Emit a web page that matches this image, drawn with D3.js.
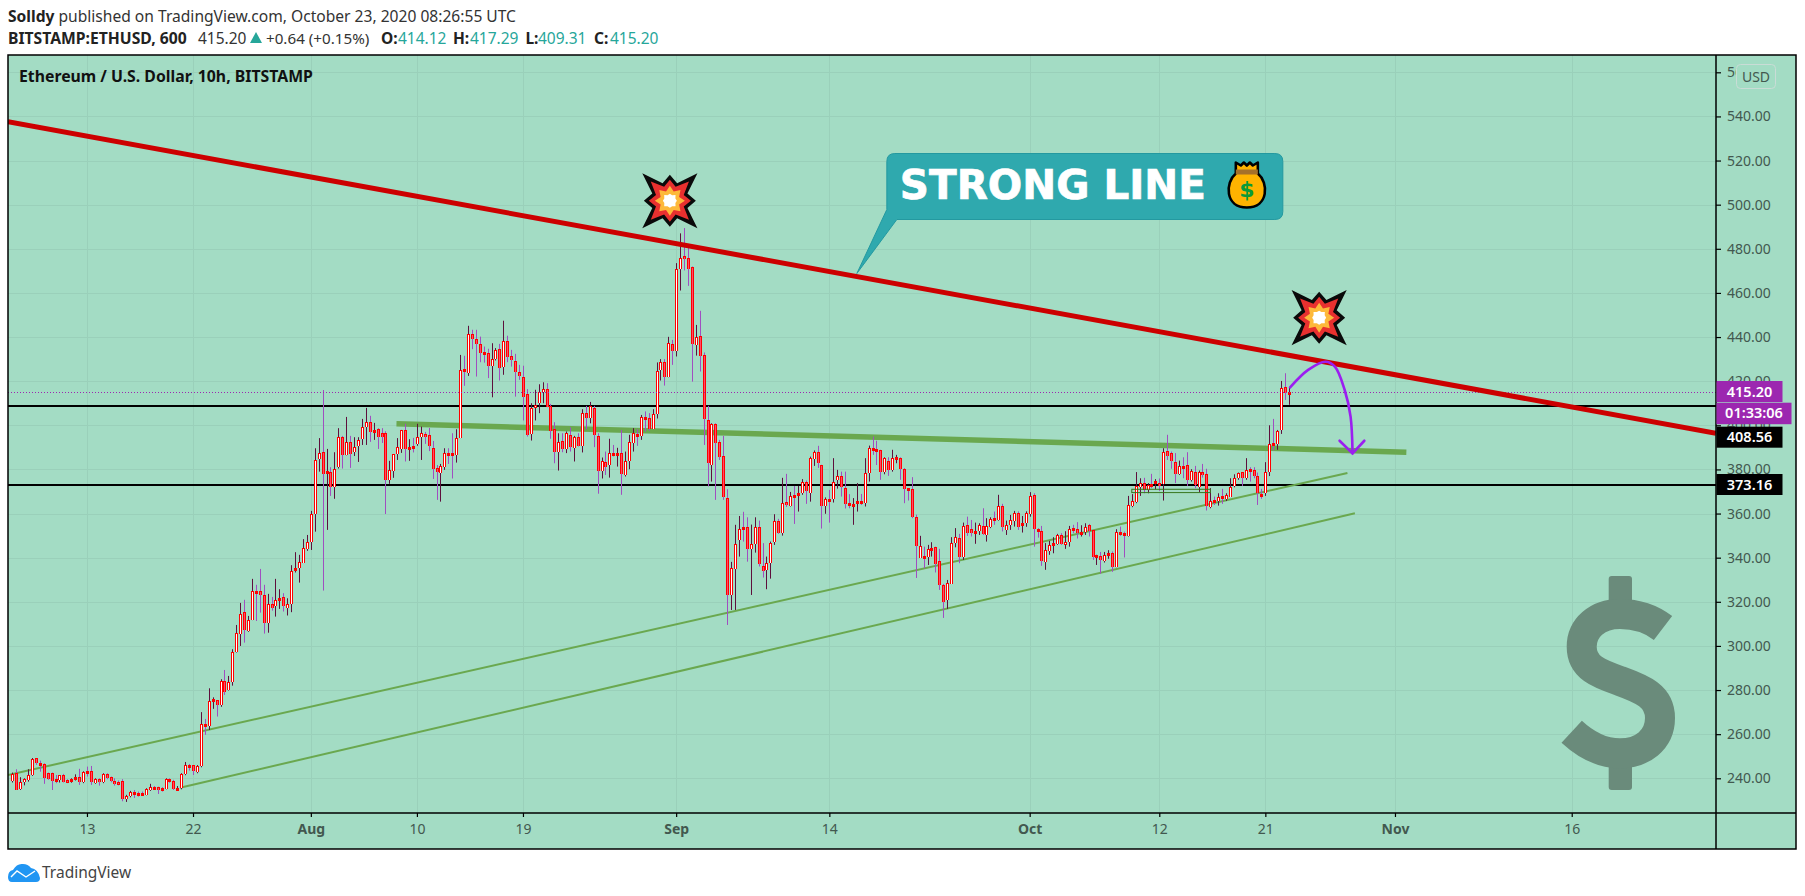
<!DOCTYPE html>
<html><head><meta charset="utf-8">
<script src="https://cdn.jsdelivr.net/npm/d3@7/dist/d3.min.js"></script>
<style>html,body{margin:0;padding:0;background:#fff}svg{display:block}text{font-family:"Noto Sans",sans-serif}</style>
</head><body><svg id="c" width="1805" height="896"></svg>
<script>
const opens=[238.7,242.3,235.0,238.1,239.3,241.4,249.1,246.8,246.4,242.3,242.3,239.6,239.3,241.5,239.3,238.7,239.6,240.5,238.4,243.2,243.5,237.8,239.6,238.2,241.8,240.5,239,238.5,238.7,230.7,232,233.7,233.4,233.4,232.6,234.7,236,236.1,235.6,235.3,239.6,239,235.3,235.6,241.8,246,245.9,243,245.4,264.5,263.9,274.8,275.4,273.4,284,279.8,283.5,297.1,305.2,315.3,306.8,311.7,324.8,324.8,323,310.6,318.9,318,321.5,322.1,317.4,319.2,334.2,335.5,337.8,344.1,347.3,359.7,384.6,387.8,378.1,379,372.2,380.9,394.6,386.4,392.3,387.7,390.8,393.7,399.4,401.4,396.7,398.2,396.4,396.4,375,379.5,386.8,389.2,397.8,389.2,390.7,391.3,394.5,396.1,395.5,389.6,380.6,378.6,380.9,387.4,387.4,386.6,394.2,425.4,423.9,441.3,439,436.8,433.1,432.7,427.1,430.1,434.5,426.3,438,431.2,429.2,424.1,422.1,414.1,396,408.2,410,414.9,416.4,408.8,398.2,387.8,392.9,389.2,395.7,389.6,394.6,390.8,405.5,403.2,407.8,395.1,379.5,383.3,381.8,387.4,386.3,387.4,377.5,383.6,391.9,396.1,395.2,403.7,403.2,398.4,405,425.1,428.9,421.8,436.8,433.9,470.9,476.8,475.8,471.7,436.3,440.6,431.8,402.5,381.9,400.5,392.3,386,367.1,323.1,334.8,347.8,353.8,353.8,343.8,346.1,353.8,336.1,334.6,337.5,347,356.5,351.1,365.1,363.6,368.6,368.2,369.2,374.2,369.5,384.9,387.8,381.9,363.2,366.5,366.8,375,377.2,371.5,364.7,363.6,364.5,365.6,365,378.3,389.8,389.2,388.7,379,383.6,379.8,384.5,385.1,380.1,371.6,371,358.3,340,340.8,340.5,343.7,344.7,338.4,327.5,320.6,328.1,346.6,348.8,340.1,354.7,352.9,351.1,352.3,354.4,350.5,353.7,358,357.3,363.3,352.5,354.7,356.4,360.2,354.6,355.6,359.9,368.3,353.1,352,338,343.2,346,346.4,350.5,346,347.3,353.4,352.9,351.2,351.7,355,352.5,340.1,340.7,338.7,341,342,336,351.5,351.1,350,363.6,365.1,372.2,374,370.9,373.5,373.6,374,373.2,388.3,387.4,383.3,378.1,381.6,381.9,375,378.7,372.2,378.7,377.8,363,366.2,365.9,367.9,366.7,367.7,372.5,376,378.7,376.2,380.1,379.6,376.9,368.9,369.1,379,392,391.4,397.8,417.3,414.12];
const highs=[242.6,244.1,240.5,240,244.1,249.2,249.2,248,246.8,242.6,242.6,241.5,241.5,242,239.6,240,241.8,244.3,243.2,245.3,245.6,240,240,242.3,242.3,240.8,240,239,239.6,232.5,234.3,234.7,234,234,235.5,237.5,236.5,236.2,236,240,240,239.3,236.5,242.3,247.4,246.5,246,246,270,266.9,280.8,276.7,275.5,284.9,289.1,286.4,298.5,309.5,319.5,320.9,313.6,330.4,327.7,334.9,327.7,323.6,322.2,330.4,325.7,323.9,321.6,336.6,342.5,341.3,348.4,350.3,361.2,389.6,394.2,416,389.3,381,387.8,398.7,395.2,403.8,395.2,394.6,394.6,402.9,407.9,404.3,401.1,398.7,398.7,397.3,383.9,387,394.2,397.9,400.7,393.7,394.3,400.7,399.4,397,398.8,392.9,382,382.5,389.6,389.6,396.4,398.2,431.9,431.5,445.1,443.3,443.3,440.2,435.7,434.7,437.2,435,436.9,447.4,440.6,434.2,432.4,427.4,427,416.4,410,416.1,418.6,419.5,419.1,409.7,401.4,396.4,396.4,397.2,399,395.2,396.4,407.3,408.8,410.6,408.8,396.4,385.4,388.1,393.9,391.1,389.8,397.9,388.1,395.7,398.7,398.2,404.7,406.3,405.5,407.3,428.5,430,430,440.1,438.7,473.5,487,489.4,481.8,472,445.5,451.9,433,408.8,400.9,400.9,393.4,395.2,371,338.1,354.9,358.9,360.8,358.3,355,358.3,356.8,346.6,340.5,347.3,359.7,357.6,376.2,378,369.8,372.5,372.5,375.6,375,385.8,388.6,390.7,382.1,367.3,370.7,385.1,379.8,379,379,368.8,367,373.8,368.9,385.1,390.8,394.9,393,388.9,385.5,385.5,388.9,386.6,385.5,380.6,371.5,376.5,359.5,349.9,345,345.8,347,345,344,328.1,329.9,349.3,353.4,350.8,355.9,358.6,357.1,355.9,355.6,362.4,357.9,358.3,360.9,368.5,364.4,356.8,359.4,361.2,361,358.9,361,369.7,369.2,353.4,354.4,346.6,347.6,349.3,350.8,351.1,352,354.4,354.9,356.1,354.7,355.6,355.3,352.6,341.3,342.6,342.6,343.4,342.8,352.9,354.1,351.8,368,368.8,378.8,376,376.2,373.8,378,375.6,375.9,389.6,395.7,388.1,387.4,384,385.5,387.8,380.1,381.6,379.5,382.5,380.3,371.5,367.7,369.2,371.2,369.2,376,377.8,378.6,378.6,385.1,381,381,378.6,371.2,383.3,400,402.9,397.9,420.1,423.6,417.29];
const lows=[238.1,234.7,234.7,236.8,238.5,241.1,246.1,243,237.5,239.3,234.7,237.8,238.1,238.1,237.8,238,239,237,237.8,240.8,237,237.5,236.7,237.8,239.6,238.2,236.7,236.8,229.6,229.3,231.4,231.1,231.7,232.3,232.3,234.3,234.7,232.9,234,235,238,234.7,235,235,241.4,243.5,241.5,242.3,245,259.7,261.9,271.5,268,272.4,277.8,279.8,282,297,300,301.5,306.4,311.7,311.3,315.1,305.6,306,316,313.3,316.8,315.6,313.8,315.3,333.3,328.7,337.8,343.1,343.5,351.8,379,325.1,352.6,368,366.7,380.4,380.4,386.4,380.7,386.1,383.4,391.1,391.1,392.5,393.4,389.3,392,359.8,373.5,376.2,384.3,387.5,383.6,383.9,387.7,390.7,384.3,391.6,388.3,375.7,366.2,365.4,379.8,382.5,375.9,383.1,394.2,417.9,422.4,434.5,422.1,428.6,428.4,421.4,412.7,429.4,420.3,422.9,428.6,426.6,413,420.6,402.2,394.9,393.1,402.2,405.5,410,408.2,393.9,382.8,379.5,387.8,387.4,388.1,383.6,390.4,387.7,398.2,400.9,390.1,369,375.9,377.5,376.3,385.9,381.3,368.5,376.8,380.1,388.1,390.7,393.4,397.2,397.6,398.4,403.1,420.3,418,421.8,427.4,431.2,461.1,470.2,463.2,419.8,431.6,424.4,391.1,372.3,374.5,366.2,384.3,366.2,309.5,316.3,316.3,340.5,347.3,338.2,323.1,342.3,336,331,325.7,330.5,345.8,350.8,350,363,363.2,355.3,360.9,368.5,364.4,365.4,381.6,380.7,353.2,359.9,355.9,365,371.3,367.7,362.3,362.4,354.9,360.9,363.9,363.2,374.5,386.6,382,375.3,377.8,377.1,379,382.8,375.3,364.7,365.9,357.9,330.8,340,335.2,336.7,340.5,333.3,325.4,312.7,316.8,328.1,344.7,337.5,339,349.9,349.6,346.3,350.3,350.3,347.3,353.4,354.9,356.8,351.9,350.3,352.6,354.1,352.6,351.4,354,358.6,345,349.1,336.3,334.5,341.3,342,345.8,345.8,344,345,351.1,348.7,349.6,350.3,349.6,339,336.7,332.8,337.8,339.5,333.6,335.7,349.9,340.1,349.6,362.9,364.7,368,369.2,369.2,371.5,371,370.3,365.9,384.3,380.3,373.8,377.5,376,372.5,374.5,371.5,369.8,376.3,361.4,362.4,363.9,363.6,364.4,365.7,367.7,371.9,375.3,372.5,375.3,374.5,376,363.9,366.7,368,377,388.6,388.9,396.1,411.5,409.31];
const closes=[242,234.7,238.2,239.6,241.4,248.6,247.1,246.2,240,239.7,239,239,241.5,238.5,238.1,239.7,240.5,238.5,242.9,242.9,238.1,239.6,238.4,241.8,240.3,239,237.3,237.2,230.8,232.2,233.8,233.4,233.2,232.6,235,236.1,235.8,234.9,234.9,239.6,239,235.3,235.8,242,245.9,245.9,243.5,245.6,264.5,264.4,274.9,275.8,273.4,284,279.2,283.7,297.1,305.8,314.4,307,311.7,324.8,324.6,323,310.6,318.9,317.4,321,321.6,318.3,318.9,333.9,335.2,338.1,344.4,347,359.7,384.2,387.4,378.1,379.2,371.9,380.1,394.6,386.4,392.3,386.8,390.1,393.3,399.1,401.4,396.9,397.8,394.9,394.9,375,379.7,386.9,390.1,397.8,389.3,390.1,390.4,394.6,396.4,394.9,390.4,380.1,379,381.5,387.4,387.2,386.3,394.2,425.1,424.5,441.3,439,436.8,432.7,432.2,427.1,430,434.2,425.9,438,430.9,429.4,424.1,422.3,413,395.7,407.8,409.4,415.3,416.4,408.5,397.5,388.1,392.4,389.3,396.4,390.1,394.5,390.8,405.5,403.5,408.8,395.4,379.5,383.7,381.3,387.4,386.3,387.4,378,383.6,392.4,396.4,395.2,403.7,402.9,398.4,405,424.8,428.9,421.8,437.5,433.9,470.8,475.8,475.6,471,436.8,439.9,431.6,402.8,382.8,400.5,391.9,385.8,367.4,323,335.1,346.3,352.9,352.8,343.8,346.3,353.8,337,333.9,337.5,346.6,356.5,351.4,364.7,363.8,367.9,367.7,369.2,374.2,370,385.1,387.8,382.7,363.2,366.5,365.4,374.5,377.2,372,364.4,363.9,364.4,365.6,365,378.3,389.6,389.5,388.1,379,385.1,379.8,385.1,385.5,380.1,371.3,370.9,358.6,345.5,345.2,340,343.8,344.4,337.2,327.4,320.1,328.4,346.6,349.3,340.1,354.4,351.4,351.4,352.2,354.6,350.6,354.4,357.4,357.7,363.3,354.1,354.7,357,360.2,354.1,355.6,360.2,368,352.9,352.8,338.4,343.4,345.7,346.6,350.2,346.3,347.3,352.9,352.8,351.4,351.8,353.8,352.3,340.5,341.1,339,341.1,342,336,351.5,351.2,350,363.8,365.6,372.4,374,370.9,372.8,373,374.7,372.7,387.8,386.3,383.6,378.1,381.5,381.3,375.3,379.2,372.8,378.7,377.5,363.2,365.7,365.3,367.4,366.8,368.6,371.9,376,378.6,376.2,379.6,379,376.8,369.1,368.3,379,391.7,391.7,397.6,416.8,414.6,415.2];

const priceTicks=[240,260,280,300,320,340,360,380,400,420,440,460,480,500,520,540,560];
const timeTickBars=[19,46,76,103,130,169,208,259,292,319,352,397];
const timeTickLabels=["13","22","Aug","10","19","Sep","14","Oct","12","21","Nov","16"];
const monthLabels=["Aug","Sep","Oct","Nov"];
const hLevels=[408.56,373.16];
const lastPrice=415.20;
const redLine=[[-1.1,537.6],[433.7,396.4]];
const greenThick=[[97.8,400.7],[354.9,387.8]];
const greenThin1=[[-1.1,241.5],[339.9,378.4]];
const greenThin2=[[42.7,235.7],[341.8,360.1]];
const rangeBox=[285,305,371,369.5];
const curvedArrow=[[325.3,417.2],[329.9,425.1],[334.3,428.8],[336.7,426.6],[339.2,416],[340.7,403.9],[341.2,387.3]];
const arrowHead=[[337.9,393],[341.2,387.3],[344.2,393]];
const blasts=[[167.4,501.8],[332.7,448.8]];
const calloutTip=[215,468.8];

const BG="#a3dcc4",GRID="#9ad0ba",AXT="#42584f";
const L=8,R=1716,T=55,B=813,FR=1796,FB=849;
const svg=d3.select("#c");
const x=d3.scaleLinear().domain([-1.1,433.73]).range([L,R]);
const y=d3.scaleLinear().domain([240,560]).range([778.3,72.3]);

svg.append("rect").attr("x",L).attr("y",T).attr("width",FR-L).attr("height",FB-T).attr("fill",BG);
const defs=svg.append("defs");
defs.append("clipPath").attr("id","plot").append("rect").attr("x",L).attr("y",T).attr("width",R-L).attr("height",B-T);
const g=svg.append("g").attr("clip-path","url(#plot)");

// grid
g.selectAll(".gh").data(priceTicks).join("line").attr("x1",L).attr("x2",R).attr("y1",d=>Math.round(y(d))+.5).attr("y2",d=>Math.round(y(d))+.5).attr("stroke",GRID);
g.selectAll(".gv").data(timeTickBars).join("line").attr("y1",T).attr("y2",B).attr("x1",d=>Math.round(x(d))+.5).attr("x2",d=>Math.round(x(d))+.5).attr("stroke",GRID);

// dollar watermark
const wm=g.append("g").attr("fill","#6a8b7b").attr("stroke","none");
wm.append("rect").attr("x",1608.7).attr("y",576).attr("width",23.3).attr("height",30).attr("rx",3);
wm.append("rect").attr("x",1608.7).attr("y",760).attr("width",23.3).attr("height",30).attr("rx",3);
wm.append("path").attr("fill","none").attr("stroke","#6a8b7b").attr("stroke-width",30)
 .attr("d","M1663,628 C1650,618 1636,614 1620,614 C1597,614 1581.7,628 1581.7,646.7 C1581.7,668 1600,674 1620,681 C1642,689 1660,696 1660,718 C1660,740 1642,753.3 1620,753.3 C1600,753.3 1585,744 1571.7,731.7");

const ln=d3.line().x(d=>x(d[0])).y(d=>y(d[1]));
// level lines
g.selectAll(".lvl").data(hLevels).join("line").attr("x1",L).attr("x2",R).attr("y1",d=>Math.round(y(d))).attr("y2",d=>Math.round(y(d))).attr("stroke","#000").attr("stroke-width",2);
// thin trend
g.append("path").attr("d",ln(greenThin1)).attr("stroke","#6aa84f").attr("stroke-width",2).attr("fill","none");
g.append("path").attr("d",ln(greenThin2)).attr("stroke","#6aa84f").attr("stroke-width",2).attr("fill","none");
g.append("path").attr("d",ln(greenThick)).attr("stroke","#6aa84f").attr("stroke-width",5.5).attr("fill","none");

// candles
const bars=d3.range(closes.length);
const cx=i=>Math.round(x(i));
g.selectAll(".w").data(bars).join("rect").attr("x",cx).attr("width",1)
 .attr("y",i=>y(highs[i])).attr("height",i=>Math.max(1,y(lows[i])-y(highs[i])))
 .attr("fill",i=>closes[i]>=opens[i]?"#5e0f3c":"#a04ec0");
g.selectAll(".b").data(bars).join("rect").attr("x",i=>cx(i)-1).attr("width",3)
 .attr("y",i=>Math.round(y(Math.max(opens[i],closes[i]))))
 .attr("height",i=>Math.max(3,Math.round(y(Math.min(opens[i],closes[i])))-Math.round(y(Math.max(opens[i],closes[i])))))
 .attr("fill","#ff0000");
g.selectAll(".c").data(bars.filter(i=>Math.abs(y(opens[i])-y(closes[i]))>=2.5)).join("rect").attr("x",cx).attr("width",1)
 .attr("y",i=>Math.round(y(Math.max(opens[i],closes[i])))+1)
 .attr("height",i=>Math.round(y(Math.min(opens[i],closes[i])))-Math.round(y(Math.max(opens[i],closes[i])))-1)
 .attr("fill",i=>closes[i]>=opens[i]?"#ffffff":"#ff4a6a");

// range box
g.append("rect").attr("x",x(rangeBox[0])).attr("width",x(rangeBox[1])-x(rangeBox[0])).attr("y",y(rangeBox[2])).attr("height",y(rangeBox[3])-y(rangeBox[2]))
 .attr("fill","none").attr("stroke","#38761d").attr("stroke-width",1);
// last price dotted
g.append("line").attr("x1",L).attr("x2",R).attr("y1",Math.round(y(lastPrice))+.5).attr("y2",Math.round(y(lastPrice))+.5).attr("stroke","#9c27b0").attr("stroke-dasharray","1 2");
// red line
g.append("path").attr("d",ln(redLine)).attr("stroke","#cc0000").attr("stroke-width",5).attr("fill","none");

// curved arrow
g.append("path").attr("d",d3.line().x(d=>x(d[0])).y(d=>y(d[1])).curve(d3.curveCatmullRom)(curvedArrow)).attr("fill","none").attr("stroke","#9b1ff0").attr("stroke-width",2.6).attr("stroke-linecap","round");
g.append("path").attr("d",ln(arrowHead)).attr("fill","none").attr("stroke","#9b1ff0").attr("stroke-width",2.6).attr("stroke-linecap","round");

// callout
const tx=x(calloutTip[0]),ty=y(calloutTip[1]);
const co=svg.append("g").attr("transform",`translate(${tx},${ty})`);
co.append("path").attr("fill","#2fa9ae").attr("stroke","#2499a0").attr("stroke-width",1)
 .attr("d","M0,0 L30,-64 L30,-112 Q30,-120 38,-120 L418,-120 Q426,-120 426,-112 L426,-62 Q426,-54 418,-54 L40,-54 Z");
co.append("text").attr("x",43).attr("y",-75).attr("fill","#fff").attr("stroke","#fff").attr("stroke-width",.7).attr("font-size",40.5).attr("font-weight",700).style("font-family","'DejaVu Sans',sans-serif").text("STRONG LINE");
// money bag
const bag=co.append("g").attr("transform","translate(390,-89)");
bag.append("path").attr("d","M-11,-22 L-11,-11 C-22,-2 -22,23 0,23 C22,23 22,-2 11,-11 L11,-22 L6,-19 L3,-22 L0,-19 L-3,-22 L-6,-19 Z").attr("fill","#ffb300").attr("stroke","#000").attr("stroke-width",2.6).attr("stroke-linejoin","round");
bag.append("rect").attr("x",-11).attr("y",-15).attr("width",22).attr("height",5).attr("fill","#a5702a");
bag.append("text").attr("x",0).attr("y",12).attr("text-anchor","middle").attr("font-size",22).attr("font-weight",700).attr("fill","#0a9a3a").style("font-family","'DejaVu Sans',sans-serif").text("$");

// blasts
function star(rAxis,rDiag,rIn){const p=[];for(let k=0;k<16;k++){const a=k*Math.PI/8;const r=k%2?rIn:(k%4===0?rAxis:rDiag);p.push([r*Math.cos(a),r*Math.sin(a)]);}return d3.line()(p)+"Z";}
svg.selectAll(".bl").data(blasts).join("g").attr("transform",d=>`translate(${x(d[0])},${y(d[1])})`).each(function(){
 const s=d3.select(this);
 s.append("path").attr("d",star(26,39,19)).attr("fill","#0a0a0a");
 s.append("path").attr("d",star(21,27,15)).attr("fill","#e8302f");
 s.append("path").attr("d",star(15,15,10)).attr("fill","#fdb93a");
 s.append("path").attr("d",star(7,8,6)).attr("fill","#fff");
});

// frame
const fr=svg.append("g").attr("stroke","#000").attr("fill","none").attr("stroke-width",1.5);
fr.append("rect").attr("x",L).attr("y",T).attr("width",FR-L).attr("height",FB-T);
fr.append("line").attr("x1",R).attr("x2",R).attr("y1",T).attr("y2",FB);
fr.append("line").attr("x1",L).attr("x2",FR).attr("y1",B).attr("y2",B);

// axes
const ya=svg.append("g").attr("transform",`translate(${R},0)`).call(d3.axisRight(y).tickValues(priceTicks).tickSize(5).tickPadding(6).tickFormat(d3.format(".2f")));
ya.select(".domain").remove();ya.selectAll("line").attr("stroke","#000").attr("stroke-width",1.2);
ya.selectAll("text").attr("fill",AXT).attr("font-size",14).style("font-family","'Noto Sans',sans-serif");
const xa=svg.append("g").attr("transform",`translate(0,${B})`).call(d3.axisBottom(x).tickValues(timeTickBars).tickSize(4).tickPadding(7).tickFormat((d,i)=>timeTickLabels[i]));
xa.select(".domain").remove();xa.selectAll("line").attr("stroke","#000").attr("stroke-width",1.2);
xa.selectAll("text").attr("fill",AXT).attr("font-size",14).style("font-family","'Noto Sans',sans-serif").attr("font-weight",(d,i)=>monthLabels.includes(timeTickLabels[i])?700:400);

// badges
const badges=[{t:"415.20",y0:381,h:21,w:66,bg:"#9c27b0"},{t:"01:33:06",y0:402.7,h:21.5,w:75,bg:"#9c27b0"},{t:"408.56",y0:426.7,h:21,w:66,bg:"#000"},{t:"373.16",y0:474,h:21,w:66,bg:"#000"}];
const bd=svg.selectAll(".bd").data(badges).join("g");
bd.append("rect").attr("x",R+.5).attr("y",d=>d.y0).attr("width",d=>d.w).attr("height",d=>d.h).attr("fill",d=>d.bg);
bd.append("text").attr("x",d=>R+.5+d.w/2).attr("y",d=>d.y0+d.h/2+5).attr("text-anchor","middle").attr("fill","#fff").attr("font-size",14.5).attr("font-weight",600).text(d=>d.t);
// USD
svg.append("rect").attr("x",1736.5).attr("y",64.5).attr("width",39).attr("height",24).attr("rx",4).attr("fill",BG).attr("stroke","#c9dcd6");
svg.append("text").attr("x",1756).attr("y",81.5).attr("text-anchor","middle").attr("fill",AXT).attr("font-size",14).text("USD");

// title
svg.append("text").attr("x",19).attr("y",81.5).attr("font-size",15.8).attr("font-weight",700).attr("fill","#111").text("Ethereum / U.S. Dollar, 10h, BITSTAMP");
// header
const h1=svg.append("text").attr("x",8).attr("y",21.5).attr("font-size",15.6).attr("fill","#333");
h1.append("tspan").attr("font-weight",700).attr("fill","#222").text("Solldy");
h1.append("tspan").text(" published on TradingView.com, October 23, 2020 08:26:55 UTC");
const TEAL="#26a69a";
const h2=[[8,"BITSTAMP:ETHUSD, 600",700,"#222",15.7],[198,"415.20",400,"#333",15.5],[266,"+0.64 (+0.15%)",400,"#333",15.2],[381,"O:",700,"#222",15.5],[398,"414.12",400,TEAL,15.5],[453,"H:",700,"#222",15.5],[470,"417.29",400,TEAL,15.5],[525.4,"L:",700,"#222",15.5],[538,"409.31",400,TEAL,15.5],[594,"C:",700,"#222",15.5],[610,"415.20",400,TEAL,15.5]];
svg.selectAll(".h2").data(h2).join("text").attr("x",d=>d[0]).attr("y",43.5).attr("font-size",d=>d[4]).attr("font-weight",d=>d[2]).attr("fill",d=>d[3]).text(d=>d[1]);
svg.append("path").attr("d",d3.line()([[250,43],[262,43],[256,32]])+"Z").attr("fill",TEAL);
// logo
svg.append("path").attr("fill","#2196f3").attr("d","M8,877 Q8,871 13,870 Q17,863 23,864 Q28,864 31,868 Q38,869 40,878 Q40,882 36,882 L12,882 Q8,882 8,877 Z");
svg.append("path").attr("fill","none").attr("stroke","#fff").attr("stroke-width",1.4).attr("d","M11,877 L17,871 L26,877 L35,871");
svg.append("text").attr("x",42).attr("y",878).attr("font-size",15.5).attr("fill","#444").text("TradingView");
</script></body></html>
